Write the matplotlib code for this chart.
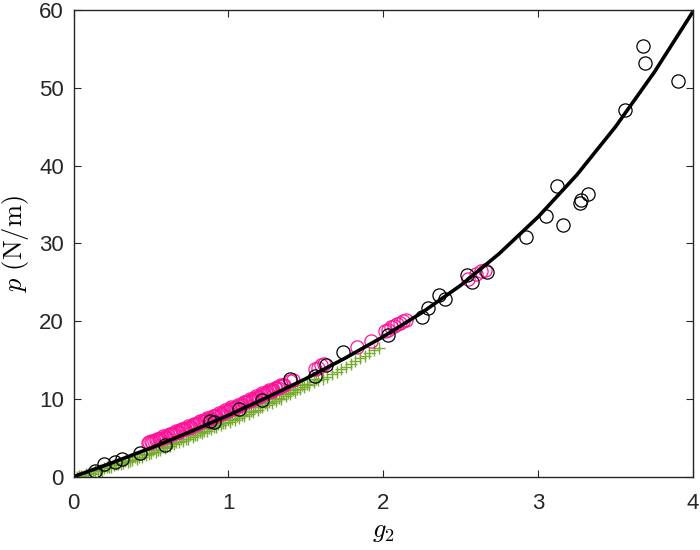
import matplotlib
matplotlib.use("Agg")
import matplotlib.pyplot as plt

# fitted curve
curve_x = [0, 0.25, 0.5, 0.75, 1.0, 1.25, 1.5, 1.75, 2.0, 2.25, 2.5, 2.75, 3.0, 3.25, 3.5, 3.75, 4.0]
curve_y = [0, 1.8, 3.7, 5.75, 7.9, 10.2, 12.6, 15.2, 18.0, 21.1, 24.6, 28.7, 33.4, 38.8, 45.0, 52.0, 59.8]

# black circles
black_x = [0.14, 0.20, 0.27, 0.31, 0.43, 0.59, 0.88, 0.91, 1.07, 1.22, 1.40, 1.56, 1.63, 1.74,
           2.03, 2.25, 2.29, 2.36, 2.40, 2.54, 2.57, 2.67, 2.92, 3.05, 3.12, 3.16, 3.27, 3.28,
           3.32, 3.56, 3.68, 3.69, 3.90]
black_y = [0.77, 1.64, 1.9, 2.3, 3.1, 4.1, 7.2, 7.0, 8.7, 9.9, 12.5, 13.0, 14.3, 16.0,
           18.2, 20.5, 21.7, 23.3, 22.8, 25.9, 25.0, 26.3, 30.8, 33.5, 37.4, 32.4, 35.2, 35.6,
           36.3, 47.1, 55.4, 53.2, 50.9]

# magenta circles
magenta_x = [0.48, 0.50, 0.52, 0.54, 0.56, 0.58, 0.60, 0.62, 0.64, 0.66, 0.68, 0.70, 0.72, 0.74,
             0.76, 0.78, 0.80, 0.82, 0.84, 0.86, 0.88, 0.90, 0.92, 0.94, 0.96, 0.98, 1.00, 1.02,
             1.04, 1.06, 1.08, 1.10, 1.12, 1.14, 1.16, 1.18, 1.20, 1.22, 1.24, 1.26, 1.28, 1.30,
             1.32, 1.34, 1.36, 1.40, 1.42, 1.56, 1.58, 1.60, 1.62, 1.83, 1.92, 2.01, 2.03, 2.05,
             2.07, 2.09, 2.11, 2.13, 2.15, 2.55, 2.60, 2.63, 2.66,
             0.49, 0.51, 0.53, 0.55, 0.57, 0.59, 0.61, 0.63, 0.65, 0.67, 0.69, 0.71, 0.73, 0.75,
             0.77, 0.79, 0.81, 0.83, 0.85, 0.87, 0.89, 0.91, 0.93, 0.95, 0.97, 0.99, 1.01, 1.03,
             1.05, 1.07, 1.09, 1.11, 1.13, 1.15, 1.17, 1.19, 1.21, 1.23, 1.25, 1.27, 1.29, 1.31,
             1.33, 1.35]
magenta_y = [4.35, 4.6, 4.55, 4.9, 4.85, 5.2, 5.15, 5.5, 5.45, 5.85, 5.8, 6.15, 6.1, 6.5,
             6.45, 6.8, 6.75, 7.15, 7.1, 7.5, 7.45, 7.85, 7.8, 8.2, 8.15, 8.55, 8.5, 8.9,
             8.85, 9.25, 9.2, 9.6, 9.55, 10.0, 9.95, 10.35, 10.3, 10.75, 10.7, 11.1, 11.05, 11.45,
             11.4, 11.8, 11.85, 12.3, 12.4, 13.8, 14.0, 14.3, 14.5, 16.7, 17.5, 18.7, 18.9, 19.2,
             19.4, 19.6, 19.8, 20.0, 20.1, 25.4, 26.0, 26.4, 26.6,
             4.4, 4.5, 4.7, 4.85, 5.0, 5.15, 5.3, 5.45, 5.6, 5.8, 5.95, 6.1, 6.25, 6.45,
             6.6, 6.75, 6.9, 7.1, 7.25, 7.4, 7.6, 7.75, 7.95, 8.1, 8.3, 8.45, 8.65, 8.8,
             9.0, 9.15, 9.35, 9.55, 9.7, 9.9, 10.1, 10.25, 10.45, 10.65, 10.85, 11.0, 11.2, 11.4,
             11.6, 11.8]

# green crosses (three overlapping rows along the band)
green_x = [0.02, 0.05, 0.08, 0.11, 0.14, 0.17, 0.20, 0.23, 0.26, 0.29, 0.32, 0.35, 0.38, 0.41,
           0.44, 0.47, 0.50, 0.53, 0.56, 0.59, 0.62, 0.65, 0.68, 0.71, 0.74, 0.77, 0.80, 0.83,
           0.86, 0.89, 0.92, 0.95, 0.98, 1.01, 1.04, 1.07, 1.10, 1.13, 1.16, 1.19, 1.22, 1.25,
           1.28, 1.31, 1.34, 1.37, 1.40, 1.43, 1.46, 1.49, 1.52, 1.55, 1.58, 1.61, 1.64, 1.67,
           1.70, 1.73, 1.76, 1.79, 1.82, 1.85, 1.88, 1.91, 1.94, 1.97,
           0.035, 0.095, 0.155, 0.215, 0.275, 0.335, 0.395, 0.455, 0.515, 0.575, 0.635, 0.695,
           0.755, 0.815, 0.875, 0.935, 0.995, 1.055, 1.115, 1.175, 1.235, 1.295, 1.355, 1.415,
           1.475,
           0.065, 0.125, 0.185, 0.245, 0.305, 0.365, 0.425, 0.485, 0.545, 0.605, 0.665, 0.725,
           0.785, 0.845, 0.905, 0.965, 1.025, 1.085, 1.145, 1.205, 1.265, 1.325, 1.385, 1.445,
           1.505, 1.565]
green_y = [0.0, 0.1, 0.3, 0.5, 0.7, 0.9, 1.1, 1.3, 1.5, 1.65, 1.7, 1.9, 2.1, 2.3,
           2.5, 2.75, 3.0, 3.2, 3.45, 3.7, 3.9, 4.15, 4.4, 4.65, 4.9, 5.1, 5.35, 5.6,
           5.85, 6.1, 6.35, 6.6, 6.85, 7.0, 7.25, 7.5, 7.8, 8.05, 8.35, 8.6, 8.9, 9.2,
           9.45, 9.75, 10.05, 10.35, 10.65, 10.95, 11.25, 11.55, 11.85, 12.15, 12.45, 12.6, 12.85, 13.15,
           13.5, 13.8, 14.15, 14.5, 14.85, 15.2, 15.55, 15.9, 16.25, 16.6,
           0.05, 0.35, 0.75, 1.2, 1.6, 2.05, 2.5, 2.95, 3.4, 3.85, 4.35, 4.85,
           5.3, 5.8, 6.3, 6.8, 7.3, 7.85, 8.4, 8.95, 9.5, 10.05, 10.65, 11.2,
           11.8,
           0.0, 0.3, 0.75, 1.2, 1.6, 2.05, 2.5, 2.95, 3.45, 3.9, 4.4, 4.85,
           5.35, 5.85, 6.35, 6.85, 7.4, 7.9, 8.45, 9.0, 9.55, 10.1, 10.7, 11.3,
           11.9, 12.55]

x_ticks = [0, 1, 2, 3, 4]
y_ticks = [0, 10, 20, 30, 40, 50, 60]


def main():
  plt.rcParams['mathtext.fontset'] = 'cm'
  plt.rcParams['font.family'] = ['Liberation Sans', 'DejaVu Sans']

  fig = plt.figure(figsize=(7, 5.5), dpi=100)
  ax = fig.add_axes([73.5 / 700, 73.3 / 550, 619.5 / 700, 466.7 / 550])

  ax.plot(green_x, green_y, linestyle='none', marker='+', markersize=8,
          markeredgewidth=1.0, color='#77AC30')
  ax.plot(magenta_x, magenta_y, linestyle='none', marker='o', markersize=9.5,
          markerfacecolor='none', markeredgewidth=0.9, color='#FF1499')
  ax.plot(black_x, black_y, linestyle='none', marker='o', markersize=9.5,
          markerfacecolor='none', markeredgewidth=0.9, color='black')
  ax.plot(curve_x, curve_y, color='black', linewidth=2.6, solid_capstyle='butt')

  ax.set_xlim(0, 4)
  ax.set_ylim(0, 60)
  ax.set_xticks(x_ticks)
  ax.set_yticks(y_ticks)
  ax.tick_params(direction='in', length=5, width=0.8, top=True, right=True,
                 labelsize=16, colors='#262626')
  ax.tick_params(axis='x', pad=12)
  ax.tick_params(axis='y', pad=7)
  for s in ax.spines.values():
    s.set_linewidth(1.0)
    s.set_color('#262626')

  ax.set_xlabel(r'$g_2$', fontsize=19, labelpad=4)
  ax.set_ylabel(r'$p\ \mathrm{(N/m)}$', fontsize=19, labelpad=6)

  fig.savefig('out.png', dpi=100)


if __name__ == '__main__':
  main()
